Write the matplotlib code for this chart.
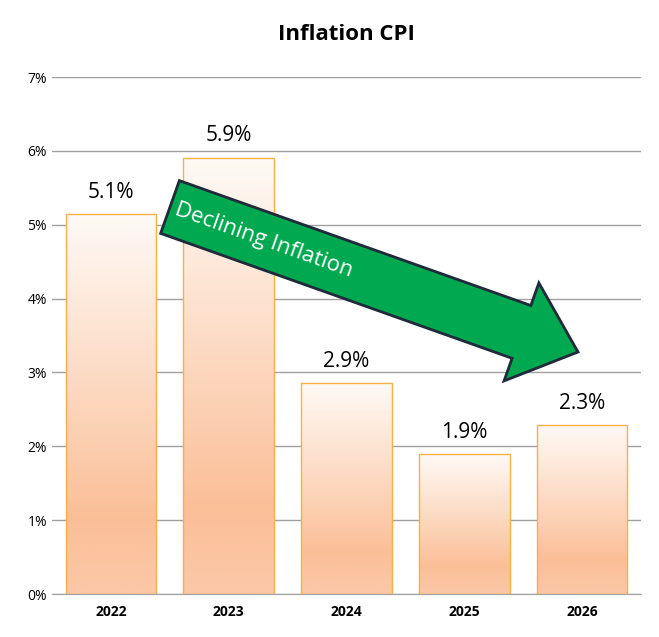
import numpy as np
import matplotlib
matplotlib.use("Agg")
import matplotlib.pyplot as plt
from matplotlib.colors import LinearSegmentedColormap
from matplotlib.patches import Polygon
from matplotlib.transforms import IdentityTransform

years = ["2022", "2023", "2024", "2025", "2026"]
cpi = [5.14, 5.91, 2.86, 1.89, 2.29]
labels = ["5.1%", "5.9%", "2.9%", "1.9%", "2.3%"]

plt.rcParams['font.family'] = ['Open Sans', 'DejaVu Sans']

fig = plt.figure(figsize=(6.59, 6.37), dpi=100)
ax = fig.add_axes([52 / 659, 43 / 637, 589 / 659, 517 / 637])

cmap = LinearSegmentedColormap.from_list(
    "peach", [(0, "#fbc8a8"), (0.2, "#fbbf98"), (0.45, "#fcd2b6"), (1, "#fffaf6")])
grad = np.linspace(0, 1, 256).reshape(-1, 1)
w = 0.77
x = np.arange(len(years))
for xi, v, lab in zip(x, cpi, labels):
    bar = ax.bar(xi, v, width=w, color="none", edgecolor="#f6b044",
                 linewidth=1, zorder=3)[0]
    im = ax.imshow(grad, cmap=cmap, origin="lower", aspect="auto",
                   extent=[xi - w / 2, xi + w / 2, 0, v], zorder=2)
    im.set_clip_path(bar)
    ax.text(xi, v + 0.15, lab, ha="center", va="bottom", fontsize=15)

ax.set_xlim(-0.5, 4.5)
ax.set_ylim(0, 7)
ax.set_xticks(x)
ax.set_xticklabels(years, fontsize=10, fontweight="bold")
ax.set_yticks(range(8))
ax.set_yticklabels([f"{i}%" for i in range(8)], fontsize=10)
ax.grid(axis="y", color="#a0a0a0", linewidth=1, zorder=0)
ax.tick_params(length=0)
ax.tick_params(axis="x", pad=8)
for s in ["top", "right", "left"]:
    ax.spines[s].set_visible(False)
ax.spines["bottom"].set_color("#a0a0a0")
ax.set_title("Inflation CPI", fontsize=16, fontweight="bold", pad=27)

# arrow in pixel coordinates (display origin bottom-left)
H = 637
x0, y0 = 170, 207
x1, y1 = 578, 352
d = np.array([x1 - x0, -(y1 - y0)], dtype=float)
L = np.hypot(*d)
u = d / L
n = np.array([-u[1], u[0]])
p0 = np.array([x0, H - y0], dtype=float)
bw, hw, hl = 28, 52, 60
pts = [p0 + n * bw, p0 + u * (L - hl) + n * bw, p0 + u * (L - hl) + n * hw,
       p0 + u * L, p0 + u * (L - hl) - n * hw, p0 + u * (L - hl) - n * bw,
       p0 - n * bw]
fig.patches.append(Polygon(pts, closed=True, facecolor="#00a84f",
                           edgecolor="#1f2a3a", linewidth=2,
                           transform=IdentityTransform(), zorder=5))
c = p0 + u * 100
ang = np.degrees(np.arctan2(u[1], u[0]))
fig.text(c[0] / 659, c[1] / H, "Declining Inflation", color="white",
         fontsize=16, rotation=ang, ha="center", va="center",
         rotation_mode="anchor", zorder=6)

fig.savefig("out.png", dpi=100)
